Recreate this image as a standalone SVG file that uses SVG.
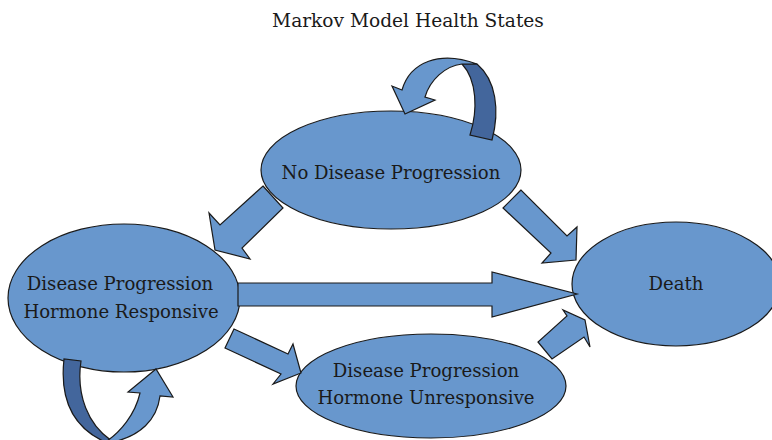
<svg xmlns="http://www.w3.org/2000/svg" width="772" height="440" viewBox="0 0 772 440">
<style>
.n{fill:#6897cd;stroke:#1a1a1a;stroke-width:1.2}
.a{fill:#6897cd;stroke:#1a1a1a;stroke-width:1.2;stroke-linejoin:miter}
.d{fill:#43669c;stroke:#1a1a1a;stroke-width:1.2}
.t{font-family:"DejaVu Serif","Liberation Serif",serif;font-size:18.1px;fill:#1a1a1a;text-anchor:middle}
.ti{font-family:"DejaVu Serif","Liberation Serif",serif;font-size:18.6px;fill:#1a1a1a;text-anchor:middle}
</style>
<rect width="772" height="440" fill="#fff"/>
<text class="ti" x="408" y="27">Markov Model Health States</text>
<g id="node-ndp">
<ellipse class="n" cx="391" cy="170" rx="130" ry="59"/>
<text class="t" x="391" y="179">No Disease Progression</text>
</g>
<g id="node-dphr">
<ellipse class="n" cx="124" cy="298" rx="116" ry="74"/>
<text class="t" x="120" y="290">Disease Progression</text>
<text class="t" x="121" y="318">Hormone Responsive</text>
</g>
<g id="node-death">
<ellipse class="n" cx="676" cy="284" rx="104" ry="62"/>
<text class="t" x="676" y="290">Death</text>
</g>
<g id="node-dphu">
<ellipse class="n" cx="431" cy="386" rx="135" ry="52"/>
<text class="t" x="426" y="377">Disease Progression</text>
<text class="t" x="426" y="404">Hormone Unresponsive</text>
</g>
<g id="connectors">
<path class="d" d="M462,64 C477,80 478,110 470,135 L492,140 C500,110 496,80 477,64 Z"/>
<path class="a" d="M402,90 C410,62 440,50 477,64 L462,64 C445,66 430,80 425,97 L435,100 L405,114 L392,86 Z"/>
<path class="d" d="M64,359 C60,395 70,425 103,441 L112,441 C88,425 76,395 81,361 Z"/>
<path class="a" d="M107,441 C120,432 135,415 140,393 L128,392 L156,369 L173,397 L160,396 C157,420 140,436 113,442 Z"/>
<path class="a" d="M263,186 L283,208 L242,248 L250,259 L215,250 L209,213 L220,225 Z"/>
<path class="a" d="M521,190 L503,208 L551,253 L542,263 L576,260 L577,227 L567,236 Z"/>
<path class="a" d="M238,283 L492,283 L492,272 L577,294 L492,317 L492,306 L238,306 Z"/>
<path class="a" d="M234,329 L225,348 L281,374 L273,384 L301,373 L293,344 L288,354 Z"/>
<path class="a" d="M538,342 L552,359 L584,337 L590,347 L585,320 L563,310 L567,316 Z"/>
</g>
</svg>
